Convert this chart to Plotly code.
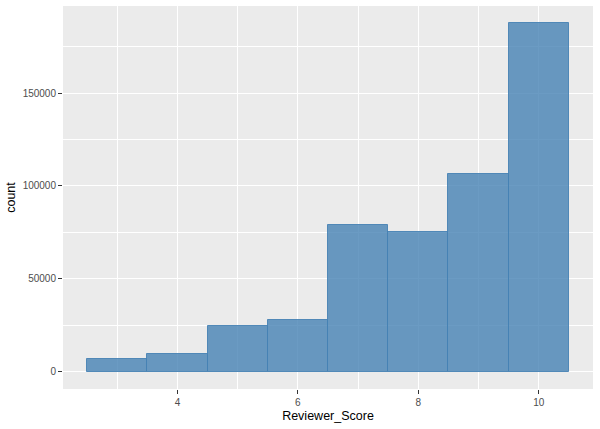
import plotly.graph_objects as go

scores = [3, 4, 5, 6, 7, 8, 9, 10]
counts = [6700, 9400, 24600, 27700, 78800, 75400, 106600, 187700]
x_ticks = [4, 6, 8, 10]
y_ticks = [0, 50000, 100000, 150000]

fig = go.Figure()
fig.add_trace(go.Bar(
    x=scores, y=counts, width=1,
    marker=dict(color="rgba(70,130,180,0.8)", line=dict(color="rgba(70,130,180,0.9)", width=1)),
))

font = "Liberation Sans, Arial, sans-serif"
fig.update_layout(
    width=600, height=429,
    margin=dict(l=63, r=7, t=6, b=40),
    paper_bgcolor="white", plot_bgcolor="#EBEBEB",
    showlegend=False, bargap=0,
    font=dict(family=font),
)
fig.update_xaxes(
    range=[2.1, 10.9], tickvals=x_ticks, ticktext=[str(v) for v in x_ticks],
    showgrid=True, gridcolor="white", gridwidth=1.1, zeroline=False,
    ticks="outside", ticklen=4, tickcolor="#333333", tickwidth=1,
    tickfont=dict(size=10, color="#4D4D4D"),
    minor=dict(tickvals=[3, 5, 7, 9], showgrid=True, gridcolor="white", gridwidth=0.55),
    title=dict(text="Reviewer_Score", font=dict(size=12.5, color="black"), standoff=4),
    showline=False, automargin=False,
)
fig.update_yaxes(
    range=[-9375, 196875], tickvals=y_ticks, ticktext=[str(v) for v in y_ticks],
    showgrid=True, gridcolor="white", gridwidth=1.1, zeroline=False,
    ticks="outside", ticklen=4, tickcolor="#333333", tickwidth=1,
    tickfont=dict(size=10, color="#4D4D4D"),
    minor=dict(tickvals=[25000, 75000, 125000, 175000], showgrid=True, gridcolor="white", gridwidth=0.55),
    title=dict(text="count", font=dict(size=12.5, color="black"), standoff=4),
    showline=False, automargin=False,
)
fig.write_html("out.html", config={"displayModeBar": False},
               post_script="document.body.style.margin='0px';")
